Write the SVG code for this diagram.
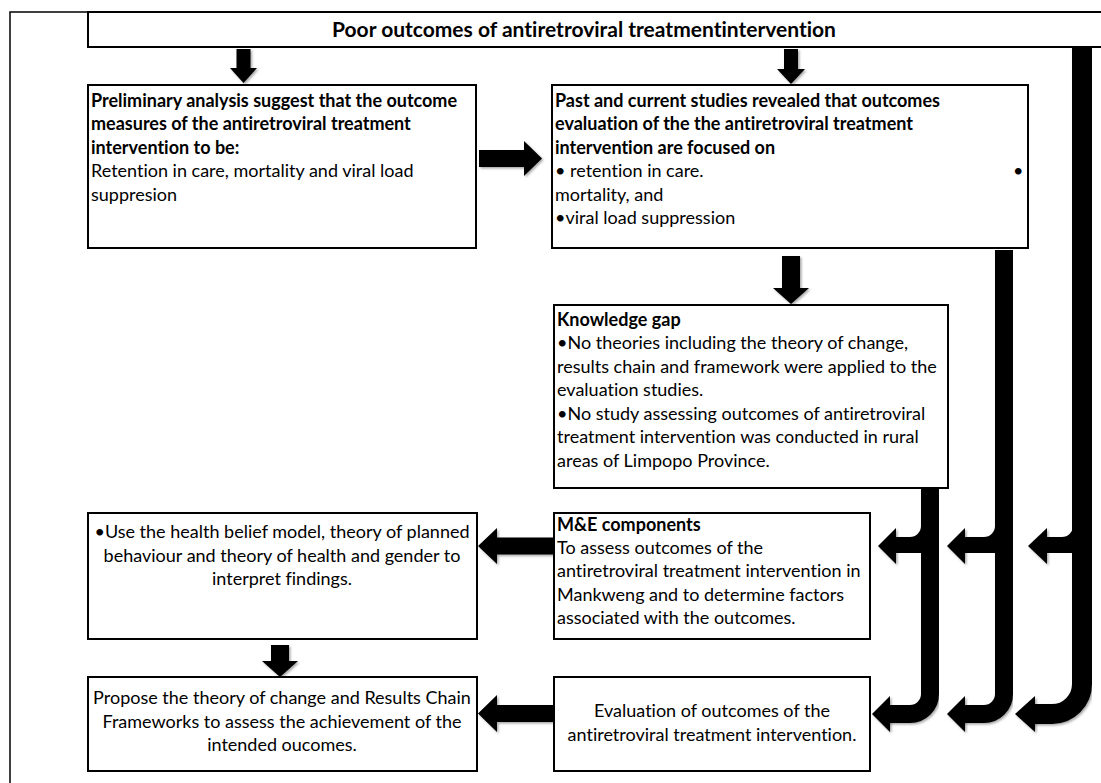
<svg xmlns="http://www.w3.org/2000/svg" width="1101" height="783" viewBox="0 0 1101 783">
<defs>
<style>
.box{fill:#fff;stroke:#000;stroke-width:2}
.frame{fill:none;stroke:#000;stroke-width:1.5}
text{font-family:Lato,"Liberation Sans",sans-serif;font-size:18px;fill:#000;font-variant-ligatures:none;font-feature-settings:"liga" 0,"clig" 0}
.b{font-weight:bold}
.c{text-anchor:middle}
.t{font-size:21px;font-weight:bold;text-anchor:middle}
.arr{fill:#000;filter:url(#sh)}
.bar{fill:none;stroke:#000;filter:url(#sh)}
</style>
<filter id="sh" x="-20%" y="-20%" width="140%" height="140%">
<feDropShadow dx="1.5" dy="1.5" stdDeviation="1.2" flood-color="#000" flood-opacity="0.35"/>
</filter>
</defs>
<rect width="1101" height="783" fill="#fff"/>
<g id="frame">
<path class="frame" d="M10,783 V12 H1101"/>
</g>
<g id="title">
<path class="box" d="M1102,12 H88 V47 H1102"/>
<text class="t" x="584" y="37">Poor outcomes of antiretroviral treatmentintervention</text>
</g>
<g id="connectors">
<polygon class="arr" points="236.5,49 250.5,49 250.5,68 257,68 243.5,83 230,68 236.5,68"/>
<polygon class="arr" points="784,49 798,49 798,69 805,69 791,84 777,69 784,69"/>
<polygon class="arr" points="479,150 524,150 524,141 542,158.5 524,176 524,167 479,167"/>
<polygon class="arr" points="782,256 800,256 800,288 809,288 791,304 773,288 782,288"/>
<polygon class="arr" points="553,537.5 497,537.5 497,528 478,546 497,564 497,554.5 553,554.5"/>
<polygon class="arr" points="553,705 497,705 497,695 478,713.5 497,732 497,722 553,722"/>
<polygon class="arr" points="271,645 289,645 289,661 298,661 280,677 262,661 271,661"/>
<path class="bar" stroke-width="18" d="M930,488 V694 A20,20 0 0 1 910,714 H888"/>
<path class="bar" stroke-width="18" d="M930,515 V526 A20,20 0 0 1 910,546 H894"/>
<polygon class="arr" points="890,696 872,714 890,732"/>
<polygon class="arr" points="896,528 878,546 896,564"/>
<path class="bar" stroke-width="18" d="M1004,250 V694 A20,20 0 0 1 984,714 H963"/>
<path class="bar" stroke-width="18" d="M1004,515 V526 A20,20 0 0 1 984,546 H963"/>
<polygon class="arr" points="965,696 947,714 965,732"/>
<polygon class="arr" points="965,528 947,546 965,564"/>
<path class="bar" stroke-width="20" d="M1082,48 V684 A30,30 0 0 1 1052,714 H1033"/>
<path class="bar" stroke-width="18" d="M1082,515 V526 A20,20 0 0 1 1062,546 H1045"/>
<polygon class="arr" points="1035,696 1015,714 1035,732"/>
<polygon class="arr" points="1047,528 1028,546 1047,564"/>
</g>
<g id="box1">
<rect class="box" x="88" y="85" width="388" height="163"/>
<text class="b" x="91" y="107">Preliminary analysis suggest that the outcome</text>
<text class="b" x="91" y="130">measures of the antiretroviral treatment</text>
<text class="b" x="91" y="154">intervention to be:</text>
<text x="91" y="177">Retention in care, mortality and viral load</text>
<text x="91" y="201">suppresion</text>
</g>
<g id="box2">
<rect class="box" x="552" y="85" width="476" height="163"/>
<text class="b" x="555" y="107">Past and current studies revealed that outcomes</text>
<text class="b" x="555" y="130">evaluation of the the antiretroviral treatment</text>
<text class="b" x="555" y="154">intervention are focused on</text>
<text x="555" y="177">• retention in care.</text>
<text x="1013" y="177">•</text>
<text x="555" y="201">mortality, and</text>
<text x="555" y="224">•viral load suppression</text>
</g>
<g id="gap">
<rect class="box" x="554" y="305" width="394" height="183"/>
<text class="b" x="557" y="326">Knowledge gap</text>
<text x="557" y="349">•No theories including the theory of change,</text>
<text x="557" y="373">results chain and framework were applied to the</text>
<text x="557" y="396">evaluation studies.</text>
<text x="557" y="420">•No study assessing outcomes of antiretroviral</text>
<text x="557" y="443">treatment intervention was conducted in rural</text>
<text x="557" y="467">areas of Limpopo Province.</text>
</g>
<g id="me">
<rect class="box" x="554" y="513" width="316" height="126"/>
<text class="b" x="557" y="531">M&amp;E components</text>
<text x="557" y="554">To assess outcomes of the</text>
<text x="557" y="577">antiretroviral treatment intervention in</text>
<text x="557" y="601">Mankweng and to determine factors</text>
<text x="557" y="624">associated with the outcomes.</text>
</g>
<g id="eval">
<rect class="box" x="554" y="677" width="316" height="94"/>
<text class="c" x="712" y="717">Evaluation of outcomes of the</text>
<text class="c" x="712" y="741">antiretroviral treatment intervention.</text>
</g>
<g id="use">
<rect class="box" x="88" y="513" width="389" height="126"/>
<text class="c" x="282" y="538">•Use the health belief model, theory of planned</text>
<text class="c" x="282" y="562">behaviour and theory of health and gender to</text>
<text class="c" x="282" y="585">interpret findings.</text>
</g>
<g id="propose">
<rect class="box" x="88" y="677" width="389" height="94"/>
<text class="c" x="282" y="704">Propose the theory of change and Results Chain</text>
<text class="c" x="282" y="728">Frameworks to assess the achievement of the</text>
<text class="c" x="282" y="751">intended oucomes.</text>
</g>
</svg>
